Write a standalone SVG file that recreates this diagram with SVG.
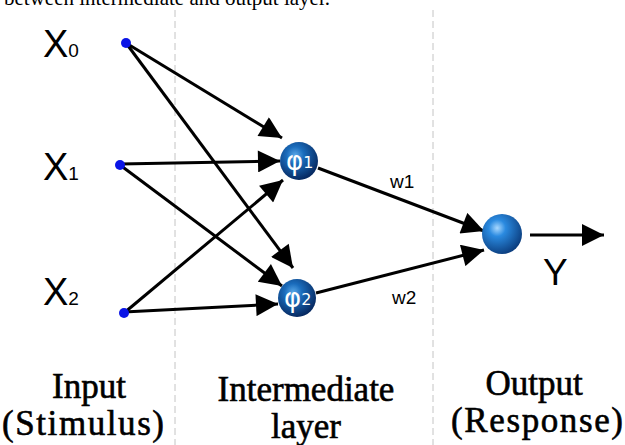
<svg xmlns="http://www.w3.org/2000/svg" width="625" height="445" viewBox="0 0 625 445">
<style>
.sans{font-family:"Liberation Sans",Arial,sans-serif;fill:#000}
.serif{font-family:"Liberation Serif","Times New Roman",serif;fill:#000}
.lbl{font-size:35px;text-anchor:middle;stroke:#000;stroke-width:0.6}
.edge{stroke:#000;stroke-width:3;fill:none}
.guide{stroke:#c4c4c4;stroke-width:1;stroke-dasharray:7 4}
.dot{fill:#0a14e6}
.phi{font-family:"DejaVu Sans","Liberation Sans",sans-serif;fill:#fff}
</style>
<defs>
<marker id="ah" viewBox="0 0 20 20" refX="20" refY="10" markerWidth="24" markerHeight="22" markerUnits="userSpaceOnUse" orient="auto">
<path d="M0,0 L20,10 L0,20 Z" fill="#000"/>
</marker>
<radialGradient id="sph" cx="0.4" cy="0.35" r="0.65">
<stop offset="0" stop-color="#5aa8e8"/>
<stop offset="0.35" stop-color="#1a6cbc"/>
<stop offset="1" stop-color="#072a62"/>
</radialGradient>
<radialGradient id="sph2" cx="0.38" cy="0.35" r="0.7">
<stop offset="0" stop-color="#a8d8ff"/>
<stop offset="0.3" stop-color="#2a8ae0"/>
<stop offset="1" stop-color="#0a3a7a"/>
</radialGradient>
</defs>
<rect width="625" height="445" fill="#fff"/>
<text class="serif" x="4" y="5" font-size="21">between intermediate and output layer.</text>
<line class="guide" x1="175" y1="10" x2="175" y2="445"/>
<line class="guide" x1="433" y1="10" x2="433" y2="445"/>
<g id="connectors">
<line class="edge" x1="126" y1="43" x2="282" y2="138" marker-end="url(#ah)"/>
<line class="edge" x1="126" y1="43" x2="293" y2="268" marker-end="url(#ah)"/>
<line class="edge" x1="120" y1="164" x2="280" y2="161" marker-end="url(#ah)"/>
<line class="edge" x1="120" y1="165" x2="282" y2="286" marker-end="url(#ah)"/>
<line class="edge" x1="124" y1="313" x2="283" y2="180" marker-end="url(#ah)"/>
<line class="edge" x1="124" y1="312" x2="278" y2="304" marker-end="url(#ah)"/>
<line class="edge" x1="318" y1="168" x2="484" y2="231" marker-end="url(#ah)"/>
<line class="edge" x1="316" y1="293" x2="484" y2="250" marker-end="url(#ah)"/>
<line class="edge" x1="530" y1="235" x2="604" y2="235" marker-end="url(#ah)"/>
</g>
<g id="x0"><circle class="dot" cx="126" cy="43" r="5"/><text class="sans" x="43" y="57" font-size="38">X<tspan font-size="19">0</tspan></text></g>
<g id="x1"><circle class="dot" cx="120" cy="165" r="5"/><text class="sans" x="43" y="180" font-size="38">X<tspan font-size="19">1</tspan></text></g>
<g id="x2"><circle class="dot" cx="124" cy="313" r="5"/><text class="sans" x="43" y="305" font-size="38">X<tspan font-size="19">2</tspan></text></g>
<g id="phi1"><circle cx="299" cy="161" r="19" fill="url(#sph)"/><text class="phi" x="286" y="170" font-size="26">φ<tspan font-size="16" dy="-2">1</tspan></text></g>
<g id="phi2"><circle cx="297" cy="298" r="19" fill="url(#sph)"/><text class="phi" x="284" y="307" font-size="26">φ<tspan font-size="16" dy="-2">2</tspan></text></g>
<g id="out"><circle cx="502" cy="234" r="20" fill="url(#sph2)"/></g>
<text class="sans" x="390" y="188" font-size="19">w1</text>
<text class="sans" x="392" y="304" font-size="19">w2</text>
<text class="sans" x="543" y="285" font-size="37">Y</text>
<g id="captions">
<text class="serif lbl" x="89" y="398">Input</text>
<text class="serif lbl" x="83" y="435" textLength="162" lengthAdjust="spacing">(Stimulus)</text>
<text class="serif lbl" x="306" y="401">Intermediate</text>
<text class="serif lbl" x="306" y="438">layer</text>
<text class="serif lbl" x="534" y="395">Output</text>
<text class="serif lbl" x="537" y="432" textLength="172" lengthAdjust="spacing">(Response)</text>
</g>
</svg>
